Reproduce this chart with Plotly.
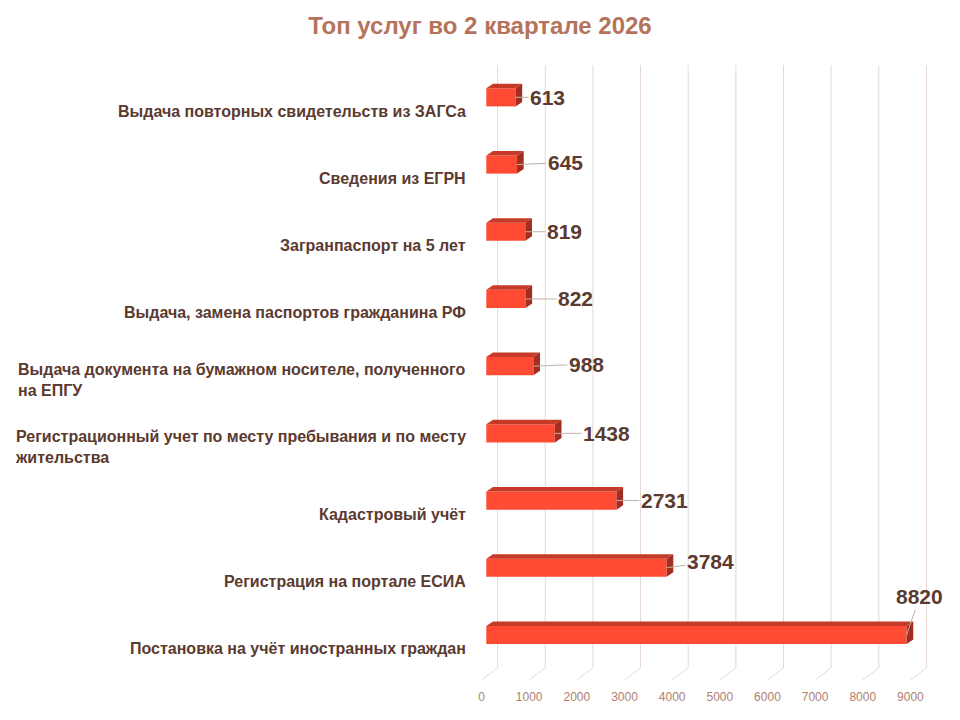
import plotly.graph_objects as go

# данные (сверху вниз, как на слайде)
services = [
    "Выдача повторных свидетельств из ЗАГСа",
    "Сведения из ЕГРН",
    "Загранпаспорт на 5 лет",
    "Выдача, замена паспортов гражданина РФ",
    "Выдача документа на бумажном носителе, полученного<br>на ЕПГУ",
    "Регистрационный учет по месту пребывания и по месту<br>жительства",
    "Кадастровый учёт",
    "Регистрация на портале ЕСИА",
    "Постановка на учёт иностранных граждан",
]
counts = [613, 645, 819, 822, 988, 1438, 2731, 3784, 8820]
x_ticks = [0, 1000, 2000, 3000, 4000, 5000, 6000, 7000, 8000, 9000]

# смещения подписей значений (px)
label_ax = [32, 48, 39, 50, 53, 52, 48, 44, 13]
label_ay = [0, -2, 0, 0, -2, 0, 0, -6, -38]

FRONT = "#FF4B33"
TOP = "#C63A28"
SIDE = "#A32D20"
TXT = "#5B3A30"
GRID = "#E6D8D2"

n = len(services)
pos = [n - 1 - i for i in range(n)]
half = 0.135      # половина высоты бара
ddx, ddy = 140, 0.067   # глубина бара
gback, gfront = 237, -100  # сдвиг сетки
y_top, y_floor, y_bot = 8.48, -0.49, -0.67

fig = go.Figure()

# передняя грань
fig.add_trace(go.Bar(x=counts, y=pos, orientation="h", width=2 * half,
                     marker=dict(color=FRONT, line=dict(width=0)),
                     hoverinfo="x"))

# верхняя и боковая грани
tx, ty, sx, sy = [], [], [], []
for v, p in zip(counts, pos):
    tx += [0, v, v + ddx, ddx, 0, None]
    ty += [p + half, p + half, p + half + ddy, p + half + ddy, p + half, None]
    sx += [v, v, v + ddx, v + ddx, v, None]
    sy += [p - half, p + half, p + half + ddy, p - half + ddy, p - half, None]
fig.add_trace(go.Scatter(x=tx, y=ty, fill="toself", fillcolor=TOP, mode="lines",
                         line=dict(width=0, color=TOP), hoverinfo="skip"))
fig.add_trace(go.Scatter(x=sx, y=sy, fill="toself", fillcolor=SIDE, mode="lines",
                         line=dict(width=0, color=SIDE), hoverinfo="skip"))

# сетка (задняя стенка + пол)
for t in x_ticks:
    fig.add_shape(type="line", x0=t + gback, x1=t + gback, y0=y_floor, y1=y_top,
                  line=dict(color=GRID, width=1), layer="below")
    fig.add_shape(type="line", x0=t + gback, x1=t + gfront, y0=y_floor, y1=y_bot,
                  line=dict(color=GRID, width=1), layer="below")

# подписи категорий
for s, p in zip(services, pos):
    fig.add_annotation(text="<b>" + s.replace("<br>", "</b><br><b>") + "</b>",
                       xref="paper", x=-0.008, y=p, yref="y",
                       xanchor="right", align="left", yshift=-14, showarrow=False,
                       font=dict(size=16, color=TXT, family="Liberation Sans"))

# подписи значений
for v, p, ax, ay in zip(counts, pos, label_ax, label_ay):
    fig.add_annotation(text="<b>%d</b>" % v, x=v, y=p, showarrow=True,
                       arrowhead=0, arrowwidth=1, arrowcolor="#BDB2AD",
                       ax=ax, ay=ay, standoff=0,
                       font=dict(size=21, color=TXT, family="Liberation Sans"))

fig.update_layout(
    width=960, height=720,
    margin=dict(l=464, r=29, t=49, b=48),
    paper_bgcolor="white", plot_bgcolor="white",
    showlegend=False,
    title=dict(text="<b>Топ услуг во 2 квартале 2026</b>", x=0.4917, xanchor="center",
               y=0.976, yanchor="middle",
               font=dict(size=24, color="#B5735A", family="Liberation Sans")),
    font=dict(family="Liberation Sans", color=TXT),
    xaxis=dict(range=[-300, 9500], showgrid=False, zeroline=False, showline=False,
               tickvals=[t + gfront for t in x_ticks], ticktext=[str(t) for t in x_ticks],
               ticks="", ticklabelstandoff=8,
               tickfont=dict(size=12, color="#B0806F")),
    yaxis=dict(range=[y_bot, 8.6], showgrid=False, zeroline=False, showline=False,
               showticklabels=False, ticks=""),
)

fig.write_html("out.html")
